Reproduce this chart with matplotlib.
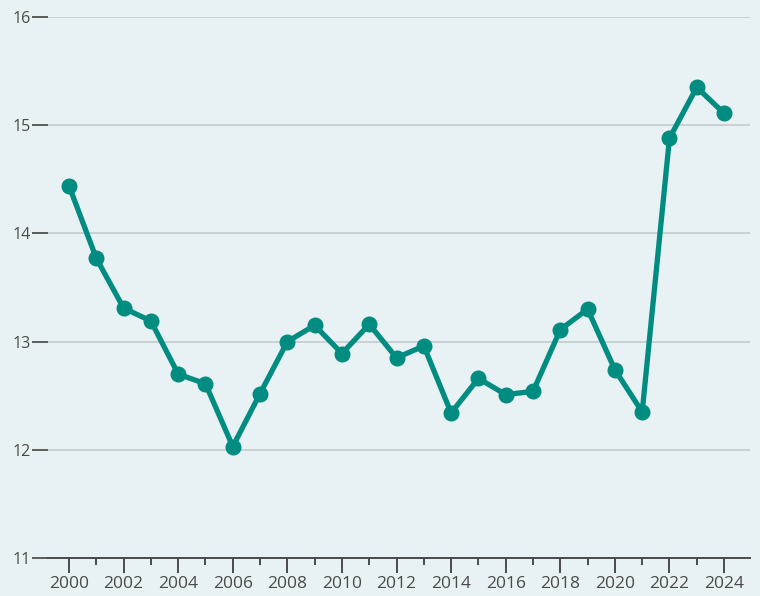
import matplotlib.pyplot as plt
import numpy as np

# dados
anos = list(range(2000, 2025))
valores = [14.44, 13.77, 13.31, 13.19, 12.70, 12.61, 12.03, 12.52, 13.00, 13.15,
           12.89, 13.16, 12.85, 12.96, 12.34, 12.66, 12.51, 12.54, 13.11, 13.30,
           12.74, 12.35, 14.88, 15.35, 15.11]
y_ticks = [11, 12, 13, 14, 15, 16]
x_labels = list(range(2000, 2025, 2))

fundo = '#e8f1f3'
verde = '#008c80'
cinza = '#4a4a4a'

plt.rcParams['font.family'] = ['Open Sans', 'DejaVu Sans']

fig = plt.figure(figsize=(7.6, 5.96), dpi=100, facecolor=fundo)
ax = fig.add_axes([48/760, 38/596, 702/760, 541/596])
ax.set_facecolor(fundo)

ax.plot(anos, valores, color=verde, lw=3.8, marker='o', ms=10.5,
        solid_capstyle='round', zorder=3, clip_on=False)

ax.set_ylim(11, 16)
ax.set_xlim(1999.23, 2024.95)
ax.set_yticks(y_ticks)
ax.set_xticks(x_labels)
ax.set_xticks(range(2001, 2025, 2), minor=True)

ax.grid(axis='y', color='#c9d1d3', lw=1.4, zorder=0)
for s in ['top', 'right', 'left']:
    ax.spines[s].set_visible(False)
ax.spines['bottom'].set_color(cinza)
ax.spines['bottom'].set_linewidth(1.4)

ax.tick_params(axis='y', length=11.5, width=1.4, color='#5a5a5a', labelsize=11.5,
               labelcolor=cinza, pad=1)
ax.tick_params(axis='x', which='major', length=11, width=1.4, color=cinza,
               labelsize=12.5, labelcolor=cinza, pad=2)
ax.tick_params(axis='x', which='minor', length=5, width=1.4, color=cinza)

fig.savefig('out.png', dpi=100, facecolor=fundo)
